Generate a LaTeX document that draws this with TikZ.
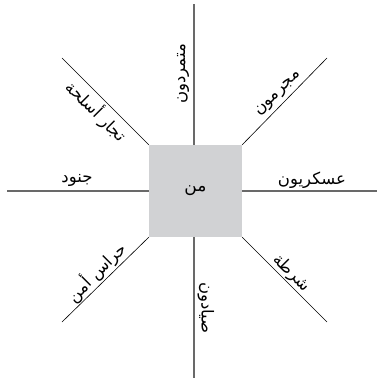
\documentclass[tikz,border=0pt]{standalone}
\usepackage{fontspec}
\newfontfamily\arabicfont[Script=Arabic]{DejaVu Sans}
\TeXXeTstate=1
\usetikzlibrary{positioning}
\definecolor{boxgray}{RGB}{209,210,212}
\definecolor{axisgray}{RGB}{105,105,105}
\newcommand{\arabtext}[1]{\beginR #1\endR}
\tikzset{
    center box/.style={
        fill=boxgray,inner sep=0pt,
        minimum width=93pt,minimum height=92pt,
        font=\arabicfont\fontsize{17}{20}\selectfont
    },
    axis line/.style={axisgray,line width=1.2pt},
    diag line/.style={black,line width=.6pt},
    arab label/.style={inner sep=1pt,font=\arabicfont\fontsize{16.5}{20}\selectfont}
}
\begin{document}
\begin{tikzpicture}[x=1pt,y=1pt]
\useasboundingbox (-195.5,-188) rectangle (181.5,191);
\node[center box] (who) at (0,0) {\arabtext{من}};
% free ends of the spokes
\coordinate (top end) at (-1.5,187);
\coordinate (bottom end) at (-1.5,-187);
\coordinate (left end) at (-188.5,0);
\coordinate (right end) at (181.5,0);
\draw[axis line] (who.north -| top end) -- (top end);
\draw[axis line] (who.south -| bottom end) -- (bottom end);
\draw[axis line] (who.west) -- (left end);
\draw[axis line] (who.east) -- (right end);
\foreach \corner/\x/\y in {north east/131.5/133,north west/-133.5/133,south west/-133.5/-131,south east/131.5/-131} {
    \coordinate (\corner end) at (\x,\y);
    \draw[diag line] (who.\corner) -- (\corner end);
}
% labels along the spokes
\node[arab label,rotate=90] (rebels) at (-12.5,117) {\arabtext{متمردون}};
\node[arab label,rotate=-90] (hunters) at (10.5,-117) {\arabtext{صيادون}};
\node[arab label] (soldiers) at (-118.5,11) {\arabtext{جنود}};
\node[arab label] (military) at (116.5,11) {\arabtext{عسكريون}};
\node[arab label,rotate=45] (criminals) at (83,97) {\arabtext{مجرمون}};
\node[arab label,rotate=-45] (dealers) at (-99,80) {\arabtext{تجار أسلحة}};
\node[arab label,rotate=45] (guards) at (-99,-81) {\arabtext{حراس أمن}};
\node[arab label,rotate=-45] (police) at (96,-82) {\arabtext{شرطة}};
\end{tikzpicture}
\end{document}
